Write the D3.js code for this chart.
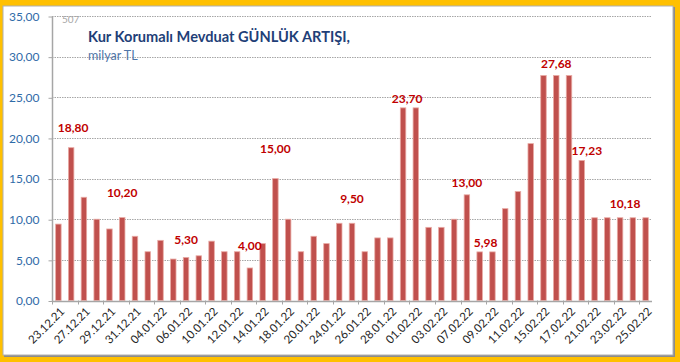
<!DOCTYPE html>
<html>
<head>
<meta charset="utf-8">
<script src="https://cdn.jsdelivr.net/npm/d3@7/dist/d3.min.js"></script>
<style>
  html, body { margin: 0; padding: 0; background: #FFC000; }
  svg { display: block; }
</style>
</head>
<body>
<svg id="chart" width="680" height="362"></svg>
<script>
// business days 23.12.21 - 25.02.22
var dates = ["23.12.21","24.12.21","27.12.21","28.12.21","29.12.21","30.12.21","31.12.21",
  "03.01.22","04.01.22","05.01.22","06.01.22","07.01.22","10.01.22","11.01.22","12.01.22","13.01.22","14.01.22",
  "17.01.22","18.01.22","19.01.22","20.01.22","21.01.22","24.01.22","25.01.22","26.01.22","27.01.22","28.01.22",
  "31.01.22","01.02.22","02.02.22","03.02.22","04.02.22","07.02.22","08.02.22","09.02.22","10.02.22","11.02.22",
  "14.02.22","15.02.22","16.02.22","17.02.22","18.02.22","21.02.22","22.02.22","23.02.22","24.02.22","25.02.22"];

// daily increase, billion TL
var values = [9.4, 18.80, 12.7, 10.0, 8.8, 10.20, 7.9,
  6.0, 7.4, 5.1, 5.30, 5.5, 7.3, 6.0, 6.0, 4.00, 7.0,
  15.00, 10.0, 6.0, 7.9, 7.0, 9.5, 9.50, 6.0, 7.7, 7.7,
  23.70, 23.70, 9.0, 9.0, 10.0, 13.00, 5.98, 5.98, 11.3, 13.4,
  19.3, 27.68, 27.68, 27.68, 17.23, 10.18, 10.18, 10.18, 10.18, 10.18];

// which bars carry a value label
var labelIdx = [1, 5, 10, 15, 17, 23, 27, 32, 33, 39, 41, 44];

var yTicks = [0, 5, 10, 15, 20, 25, 30, 35];

var svg = d3.select("#chart");

// frame
svg.append("rect").attr("x", 4).attr("y", 7).attr("width", 671).attr("height", 350)
  .attr("fill", "#8c8c8c");
svg.append("rect").attr("x", 3).attr("y", 6).attr("width", 670).attr("height", 349)
  .attr("fill", "#fff").attr("stroke", "#b0b0b0").attr("stroke-width", 1);

var pLeft = 52, pRight = 652, pTop = 16, pBottom = 300.5;

var x = d3.scaleBand().domain(d3.range(values.length)).range([pLeft, pRight]).paddingInner(0.57).paddingOuter(0.285);
var y = d3.scaleLinear().domain([0, 35]).range([pBottom, pTop]);

var fmt = function(v) { return d3.format(".2f")(v).replace(".", ","); };

// grid
svg.append("g").selectAll("line").data(yTicks.slice(1)).enter().append("line")
  .attr("x1", pLeft).attr("x2", pRight)
  .attr("y1", function(d) { return Math.round(y(d)) + 0.5; })
  .attr("y2", function(d) { return Math.round(y(d)) + 0.5; })
  .attr("stroke", "#a6a6a6").attr("stroke-width", 1).attr("stroke-dasharray", "1.5,1");

// y axis
var yAxis = svg.append("g").attr("transform", "translate(" + (pLeft + 0.5) + ",0.5)")
  .call(d3.axisLeft(y).tickValues(yTicks).tickSize(4).tickPadding(9).tickFormat(fmt));
yAxis.select(".domain").attr("stroke", "#a6a6a6").attr("stroke-width", 1.5).attr("d", "M0," + pTop + "V" + pBottom);
yAxis.selectAll(".tick line").attr("stroke", "#a6a6a6");
yAxis.selectAll("text").attr("fill", "#2f6ba8").style("font-family", "Lato, 'Open Sans', sans-serif").style("font-size", "12px");

// bars
svg.append("g").selectAll("rect").data(values).enter().append("rect")
  .attr("x", function(d, i) { return x(i); })
  .attr("width", x.bandwidth())
  .attr("y", function(d) { return y(d); })
  .attr("height", function(d) { return pBottom - y(d); })
  .attr("fill", "#C0504D")
  .attr("stroke", "#e9aaa4").attr("stroke-width", 0.8);

// x axis
var step = x.step();
svg.append("line").attr("x1", pLeft).attr("x2", pRight).attr("y1", Math.round(pBottom) + 0.5).attr("y2", Math.round(pBottom) + 0.5)
  .attr("stroke", "#a6a6a6").attr("stroke-width", 1.5);
var tickIdx = d3.range(0, values.length, 2);
svg.append("g").selectAll("line").data(tickIdx).enter().append("line")
  .attr("x1", function(i) { return Math.round(pLeft + i * step) + 0.5; })
  .attr("x2", function(i) { return Math.round(pLeft + i * step) + 0.5; })
  .attr("y1", pBottom).attr("y2", pBottom + 4)
  .attr("stroke", "#a6a6a6");

svg.append("g").selectAll("text").data(tickIdx).enter().append("text")
  .attr("transform", function(i) {
    return "translate(" + (x(i) + x.bandwidth() / 2 + 4) + "," + (pBottom + 9) + ") rotate(-45)";
  })
  .attr("text-anchor", "end")
  .attr("dy", "0.35em")
  .attr("fill", "#262626")
  .style("font-family", "Lato, 'Open Sans', sans-serif").style("font-size", "11.5px")
  .text(function(i) { return dates[i]; });

// data labels, lifted by hand like the original
var labelLift = {1: 16, 5: 21, 10: 13, 15: 18, 17: 26, 23: 20, 27: 5, 32: 8, 33: 5, 39: 8, 41: 5, 44: 10};
var labelShift = {1: 2, 27: 4, 33: 6, 41: 5, 44: 5};
svg.append("g").selectAll("text").data(labelIdx).enter().append("text")
  .attr("x", function(i) { return x(i) + x.bandwidth() / 2 + (labelShift[i] || 0); })
  .attr("y", function(i) { return y(values[i]) - labelLift[i]; })
  .attr("text-anchor", "middle")
  .attr("fill", "#C00000")
  .style("font-family", "Lato, 'Open Sans', sans-serif").style("font-size", "12px").style("font-weight", "bold")
  .text(function(i) { return fmt(values[i]); });

// titles
svg.append("text").attr("x", 62).attr("y", 23).attr("fill", "#a6a6a6")
  .style("font-family", "Lato, sans-serif").style("font-size", "10px").text("507");
svg.append("text").attr("x", 88).attr("y", 42).attr("fill", "#1f3f78")
  .style("font-family", "Lato, sans-serif").style("font-size", "14.6px").style("font-weight", "bold")
  .text("Kur Korumalı Mevduat GÜNLÜK ARTIŞI,");
svg.append("text").attr("x", 88).attr("y", 60).attr("fill", "#4f76a8")
  .style("font-family", "Lato, sans-serif").style("font-size", "12.5px")
  .text("milyar TL");
</script>
</body>
</html>
